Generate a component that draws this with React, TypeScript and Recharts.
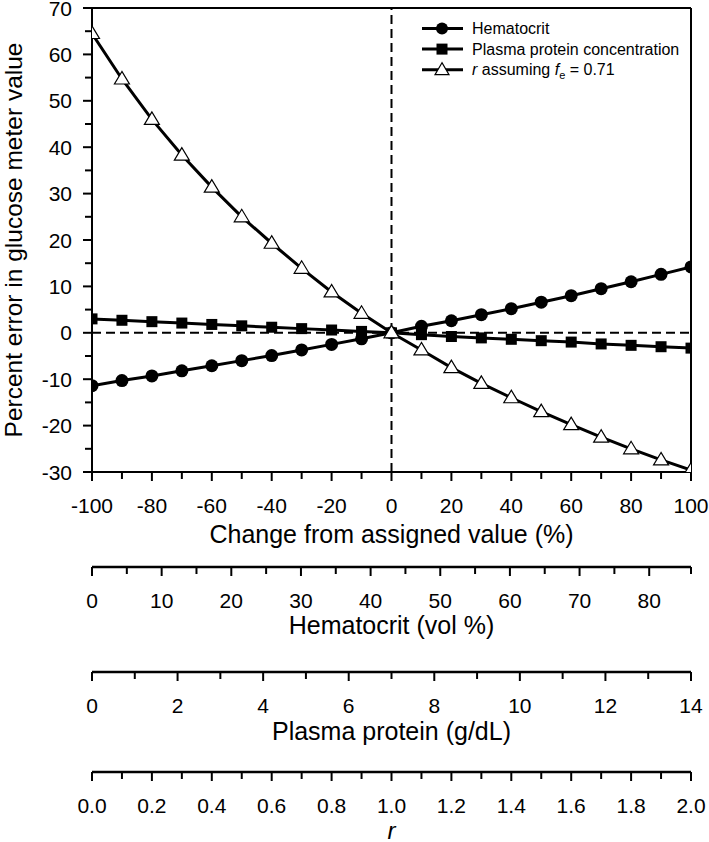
import React from "react";
import { LineChart, Line, XAxis, YAxis, ReferenceLine, Legend } from "recharts";

// ---- data ----
const changes = [-100, -90, -80, -70, -60, -50, -40, -30, -20, -10, 0, 10, 20, 30, 40, 50, 60, 70, 80, 90, 100];
const hematocritError = [-11.4, -10.3, -9.3, -8.2, -7.1, -6.0, -4.9, -3.7, -2.5, -1.3, 0, 1.4, 2.6, 3.9, 5.2, 6.6, 8.0, 9.5, 11.0, 12.6, 14.2];
const plasmaProteinError = [3.0, 2.7, 2.4, 2.1, 1.8, 1.5, 1.2, 0.9, 0.6, 0.3, 0, -0.4, -0.8, -1.1, -1.4, -1.7, -2.0, -2.4, -2.7, -3.0, -3.3];
const rError = [64.5, 54.7, 46.0, 38.3, 31.4, 25.0, 19.3, 13.9, 8.8, 4.2, 0, -3.7, -7.5, -10.9, -14.0, -17.0, -19.8, -22.5, -25.0, -27.4, -29.6];

// ---- ticks ----
const changeTicks = [-100, -90, -80, -70, -60, -50, -40, -30, -20, -10, 0, 10, 20, 30, 40, 50, 60, 70, 80, 90, 100];
const changeLabels = [-100, -80, -60, -40, -20, 0, 20, 40, 60, 80, 100];
const errorTicks = [-30, -25, -20, -15, -10, -5, 0, 5, 10, 15, 20, 25, 30, 35, 40, 45, 50, 55, 60, 65, 70];
const errorLabels = [-30, -20, -10, 0, 10, 20, 30, 40, 50, 60, 70];
const hematocritTicks = [0, 5, 10, 15, 20, 25, 30, 35, 40, 45, 50, 55, 60, 65, 70, 75, 80, 86];
const hematocritLabels = [0, 10, 20, 30, 40, 50, 60, 70, 80];
const plasmaTicks = [0, 1, 2, 3, 4, 5, 6, 7, 8, 9, 10, 11, 12, 13, 14];
const plasmaLabels = [0, 2, 4, 6, 8, 10, 12, 14];
const rTicks = [0, 0.1, 0.2, 0.3, 0.4, 0.5, 0.6, 0.7, 0.8, 0.9, 1.0, 1.1, 1.2, 1.3, 1.4, 1.5, 1.6, 1.7, 1.8, 1.9, 2.0];
const rLabels = ["0.0", "0.2", "0.4", "0.6", "0.8", "1.0", "1.2", "1.4", "1.6", "1.8", "2.0"];

const data = changes.map((c, i) => ({
  change: c,
  hct: hematocritError[i],
  pp: plasmaProteinError[i],
  r: rError[i],
}));

const FONT = "'Liberation Sans', Arial, sans-serif";
const TICK_FS = 21;
const TITLE_FS = 25;
const TS = 9;
const XM = 18;
const YM = 11;

const BottomTick = (props: any) => {
  const { x, y, payload, isMajor, fmt } = props;
  const axisY = y - TS - XM;
  const major = isMajor(payload.value);
  return (
    <g>
      <line x1={x} x2={x} y1={axisY} y2={axisY + (major ? 9 : 7)} stroke="#000" strokeWidth={2} />
      {major && (
        <text x={x} y={axisY + 41} textAnchor="middle" fontSize={TICK_FS} fontFamily={FONT} fill="#000">
          {fmt(payload.value)}
        </text>
      )}
    </g>
  );
};

const LeftTick = (props: any) => {
  const { x, y, payload } = props;
  const axisX = x + TS + YM;
  const major = errorLabels.includes(payload.value);
  return (
    <g>
      <line x1={axisX - (major ? 9 : 7)} x2={axisX} y1={y} y2={y} stroke="#000" strokeWidth={2} />
      {major && (
        <text x={axisX - 20} y={y + 7.5} textAnchor="end" fontSize={TICK_FS} fontFamily={FONT} fill="#000">
          {payload.value}
        </text>
      )}
    </g>
  );
};

const bottomTitle = (text: React.ReactNode, offset: number, fs: number = TITLE_FS) => (props: any) => {
  const vb = props.viewBox;
  return (
    <text x={vb.x + vb.width / 2} y={vb.y + offset} textAnchor="middle" fontSize={fs} fontFamily={FONT} fill="#000">
      {text}
    </text>
  );
};

const leftTitle = (props: any) => {
  const vb = props.viewBox;
  const cx = vb.x + 22;
  const cy = vb.y + vb.height / 2;
  return (
    <text x={cx} y={cy} transform={`rotate(-90, ${cx}, ${cy})`} textAnchor="middle" fontSize={24.5} fontFamily={FONT} fill="#000">
      Percent error in glucose meter value
    </text>
  );
};

const CircleDot = (p: any) => <circle key={`c${p.index}`} cx={p.cx} cy={p.cy} r={6.5} fill="#000" />;
const SquareDot = (p: any) => <rect key={`s${p.index}`} x={p.cx - 5.5} y={p.cy - 5.5} width={11} height={11} fill="#000" />;
const TriDot = (p: any) => (
  <polygon
    key={`t${p.index}`}
    points={`${p.cx},${p.cy - 7.5} ${p.cx - 7.5},${p.cy + 5} ${p.cx + 7.5},${p.cy + 5}`}
    fill="#fff"
    stroke="#000"
    strokeWidth={1.2}
  />
);

const legendRows = [
  { key: "hct", label: "Hematocrit" },
  { key: "pp", label: "Plasma protein concentration" },
  { key: "r", label: "r" },
];

const LegendContent = () => (
  <svg width={270} height={66} style={{ display: "block", overflow: "visible" }}>
    {legendRows.map((row, i) => {
      const cy = 10.5 + i * 20.6;
      const mx = 27;
      return (
        <g key={row.key}>
          <line x1={7} x2={48} y1={cy} y2={cy} stroke="#000" strokeWidth={3} />
          {row.key === "hct" && <circle cx={mx} cy={cy} r={6} fill="#000" />}
          {row.key === "pp" && <rect x={mx - 5.5} y={cy - 5.5} width={11} height={11} fill="#000" />}
          {row.key === "r" && (
            <polygon points={`${mx},${cy - 7} ${mx - 7},${cy + 5} ${mx + 7},${cy + 5}`} fill="#fff" stroke="#000" strokeWidth={1.2} />
          )}
          <text x={57} y={cy + 5.5} fontSize={16} fontFamily={FONT} fill="#000">
            {row.key === "r" ? (
              <>
                <tspan fontStyle="italic">r</tspan>
                <tspan> assuming </tspan>
                <tspan fontStyle="italic">f</tspan>
                <tspan dy={4} fontSize={11}>e</tspan>
                <tspan dy={-4}> = 0.71</tspan>
              </>
            ) : (
              row.label
            )}
          </text>
        </g>
      );
    })}
  </svg>
);

export default function App() {
  return (
    <div style={{ position: "absolute", left: 0, top: 0 }}>
      <LineChart width={709} height={842} data={data} margin={{ top: 8, right: 18, left: 0, bottom: 0 }}>
        <XAxis
          xAxisId="a_main"
          dataKey="change"
          type="number"
          domain={[-100, 100]}
          allowDataOverflow={true}
          ticks={changeTicks}
          interval={0}
          height={95}
          tickSize={TS}
          tickMargin={XM}
          tickLine={false}
          axisLine={{ stroke: "#000", strokeWidth: 2 }}
          tick={(p: any) => <BottomTick {...p} isMajor={(v: number) => changeLabels.includes(v)} fmt={(v: number) => String(v)} />}
          label={bottomTitle("Change from assigned value (%)", 71)}
        />
        <XAxis
          xAxisId="b_hct"
          dataKey="change"
          type="number"
          domain={[0, 86]}
          allowDataOverflow={true}
          ticks={hematocritTicks}
          interval={0}
          height={105}
          tickSize={TS}
          tickMargin={XM}
          tickLine={false}
          axisLine={{ stroke: "#000", strokeWidth: 2.5 }}
          tick={(p: any) => <BottomTick {...p} isMajor={(v: number) => hematocritLabels.includes(v)} fmt={(v: number) => String(v)} />}
          label={bottomTitle("Hematocrit (vol %)", 67)}
        />
        <XAxis
          xAxisId="c_pp"
          dataKey="change"
          type="number"
          domain={[0, 14]}
          allowDataOverflow={true}
          ticks={plasmaTicks}
          interval={0}
          height={100}
          tickSize={TS}
          tickMargin={XM}
          tickLine={false}
          axisLine={{ stroke: "#000", strokeWidth: 2.5 }}
          tick={(p: any) => <BottomTick {...p} isMajor={(v: number) => plasmaLabels.includes(v)} fmt={(v: number) => String(v)} />}
          label={bottomTitle("Plasma protein (g/dL)", 68)}
        />
        <XAxis
          xAxisId="d_r"
          dataKey="change"
          type="number"
          domain={[0, 2]}
          allowDataOverflow={true}
          ticks={rTicks}
          interval={0}
          height={70}
          tickSize={TS}
          tickMargin={XM}
          tickLine={false}
          axisLine={{ stroke: "#000", strokeWidth: 2.5 }}
          tick={(p: any) => (
            <BottomTick {...p} isMajor={(v: number) => rLabels.includes(v.toFixed(1))} fmt={(v: number) => v.toFixed(1)} />
          )}
          label={bottomTitle(<tspan fontStyle="italic">r</tspan>, 67, 24)}
        />
        <YAxis
          type="number"
          domain={[-30, 70]}
          allowDataOverflow={true}
          ticks={errorTicks}
          interval={0}
          width={92}
          tickSize={TS}
          tickMargin={YM}
          tickLine={false}
          axisLine={{ stroke: "#000", strokeWidth: 2 }}
          tick={(p: any) => <LeftTick {...p} />}
          label={leftTitle}
        />
        <ReferenceLine xAxisId="a_main" y={0} stroke="#000" strokeWidth={2} strokeDasharray="9 5" />
        <ReferenceLine xAxisId="a_main" x={0} stroke="#000" strokeWidth={2} strokeDasharray="9 5" />
        <ReferenceLine xAxisId="a_main" y={70} stroke="#000" strokeWidth={2} />
        <ReferenceLine xAxisId="a_main" x={100} stroke="#000" strokeWidth={2} />
        <Legend
          layout="vertical"
          align="center"
          verticalAlign="middle"
          wrapperStyle={{ position: "absolute", left: 415, top: 18, width: 270, height: 66 }}
          content={() => <LegendContent />}
        />
        <Line xAxisId="a_main" dataKey="hct" stroke="#000" strokeWidth={3} dot={CircleDot} isAnimationActive={false} />
        <Line xAxisId="a_main" dataKey="pp" stroke="#000" strokeWidth={3} dot={SquareDot} isAnimationActive={false} />
        <Line xAxisId="a_main" dataKey="r" stroke="#000" strokeWidth={3} dot={TriDot} isAnimationActive={false} />
      </LineChart>
    </div>
  );
}
